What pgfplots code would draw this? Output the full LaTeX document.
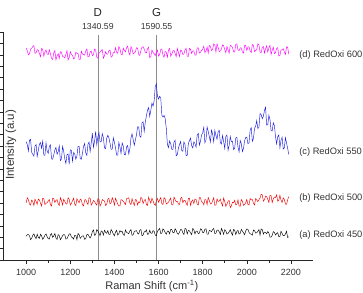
\documentclass[border=0pt]{standalone}
\usepackage{pgfplots}
\pgfplotsset{compat=1.18}
\usepackage{pgfplotstable}
\usepackage{fontspec}
\setmainfont{Liberation Sans}

\definecolor{cmag}{RGB}{255,0,255}
\definecolor{cblue}{RGB}{25,25,225}
\definecolor{cred}{RGB}{240,0,0}
\definecolor{cline}{RGB}{140,140,140}

\pgfplotstableread{
x a b c d
1000 2.08 5.02 10.38 18.58
1005 2.23 5.46 10.13 18.36
1010 2.23 5.30 9.56 18.00
1015 2.14 4.90 10.51 18.09
1020 1.78 4.82 10.58 18.49
1025 1.90 5.26 9.45 18.58
1030 2.17 5.14 9.28 18.72
1035 2.29 4.78 9.11 18.81
1040 2.02 5.34 9.98 18.13
1045 1.87 5.14 10.13 18.18
1050 2.26 4.90 9.08 18.45
1055 1.99 5.34 9.62 18.39
1060 1.90 5.26 10.16 18.11
1065 2.26 4.98 10.30 17.84
1070 2.11 4.74 9.80 18.56
1075 1.81 5.42 10.42 18.47
1080 1.96 5.38 9.20 17.89
1085 2.17 4.86 9.18 18.25
1090 2.29 4.98 10.28 18.43
1095 2.05 5.02 9.54 18.07
1100 1.87 5.18 9.36 18.02
1105 1.84 5.30 9.97 18.44
1110 2.20 4.86 10.10 18.09
1115 2.32 4.74 8.87 17.68
1120 1.99 5.42 8.84 17.59
1125 2.11 5.38 9.21 18.18
1130 2.32 5.06 9.66 18.36
1135 1.93 5.22 9.87 17.55
1140 1.81 5.30 9.28 17.91
1145 2.23 4.94 9.49 18.09
1150 2.14 4.78 10.02 17.68
1155 1.78 5.46 8.72 18.27
1160 1.93 5.22 8.86 18.22
1165 2.14 4.82 9.96 17.86
1170 2.23 5.34 9.54 17.82
1175 2.20 5.14 8.88 17.73
1180 1.84 4.94 8.46 18.04
1185 1.87 4.90 9.24 18.36
1190 2.08 5.46 9.30 17.55
1195 2.29 5.34 8.40 17.77
1200 2.29 4.82 9.66 18.27
1205 2.02 4.98 9.61 18.04
1210 1.96 5.18 8.68 17.95
1215 1.84 5.42 9.43 17.64
1220 2.17 4.90 9.30 17.73
1225 2.17 4.78 8.85 18.22
1230 1.78 5.38 9.12 18.13
1235 2.32 5.18 9.95 18.13
1240 2.23 5.02 9.98 17.59
1245 1.90 5.34 8.89 17.59
1250 2.02 5.26 8.84 18.31
1255 2.11 4.86 9.33 18.07
1260 2.11 4.74 9.97 18.01
1265 1.81 5.26 10.21 17.97
1270 1.87 5.30 9.41 18.33
1275 2.23 5.06 9.18 18.51
1280 2.26 4.86 10.14 17.83
1285 2.08 5.46 10.35 17.83
1290 1.93 5.42 9.51 18.24
1295 2.13 4.82 10.28 18.33
1300 2.49 4.98 11.12 17.92
1305 2.64 5.22 9.89 18.01
1310 2.16 5.14 10.42 18.51
1315 2.22 4.94 11.27 18.42
1320 2.67 4.82 10.12 17.79
1325 2.55 5.38 10.81 17.70
1330 2.34 5.34 11.18 18.15
1335 2.13 4.74 10.35 18.24
1340 2.55 4.94 10.39 18.37
1345 2.49 5.30 11.08 18.46
1350 2.19 5.22 10.73 17.70
1355 2.61 5.18 9.82 17.92
1360 2.43 4.78 9.78 18.28
1365 2.34 4.86 10.68 18.06
1370 2.58 5.34 10.94 18.06
1375 2.25 5.42 10.72 18.37
1380 2.25 4.94 10.25 18.42
1385 2.67 5.02 9.71 17.79
1390 2.52 5.46 9.73 17.88
1395 2.28 5.22 10.71 18.19
1400 2.13 4.82 10.32 18.19
1405 2.46 5.42 9.84 18.63
1410 2.61 5.18 9.19 18.22
1415 2.19 4.90 9.19 18.13
1420 2.31 4.74 10.31 18.71
1425 2.58 4.74 9.91 18.53
1430 2.46 5.30 9.34 18.08
1435 2.52 5.26 10.27 17.99
1440 2.22 5.14 10.00 18.58
1445 2.16 5.02 9.25 18.40
1450 2.64 4.86 9.22 18.26
1455 2.43 5.38 9.91 18.62
1460 2.37 5.42 10.04 18.76
1465 2.31 5.46 9.30 18.22
1470 2.55 4.98 9.76 17.99
1475 2.67 4.86 10.70 18.71
1480 2.16 5.38 11.07 18.49
1485 2.22 5.06 10.57 18.08
1490 2.49 4.78 10.07 18.17
1495 2.55 5.30 10.53 18.26
1500 2.58 5.27 10.98 18.62
1505 2.34 4.83 11.69 18.58
1510 2.28 5.11 11.68 18.04
1515 2.61 5.03 10.87 17.95
1520 2.67 5.51 10.78 18.40
1525 2.13 5.39 12.05 18.67
1530 2.19 4.95 12.12 18.71
1535 2.49 5.23 11.28 18.49
1540 2.46 5.31 12.12 18.22
1545 2.64 4.87 12.64 18.17
1550 2.25 4.79 13.16 18.53
1555 2.28 5.51 13.36 18.66
1560 2.61 5.23 12.60 17.75
1565 2.37 4.99 13.14 17.84
1570 2.34 5.43 13.76 18.42
1575 2.58 5.19 13.50 18.20
1580 2.52 4.91 13.96 18.11
1585 2.19 4.79 15.22 17.93
1590 2.13 5.19 15.44 18.24
1595 2.51 5.39 14.38 18.42
1600 2.65 5.07 14.12 17.88
1605 2.77 5.27 14.36 18.02
1610 2.32 5.47 14.20 18.47
1615 2.35 4.95 12.69 18.51
1620 2.74 4.87 12.54 17.97
1625 2.62 5.47 12.68 17.79
1630 2.41 5.35 12.42 18.29
1635 2.26 4.91 11.57 18.24
1640 2.53 4.99 10.16 17.79
1645 2.53 5.07 9.86 18.42
1650 2.29 5.27 10.44 18.56
1655 2.68 5.43 10.20 17.88
1660 2.68 4.83 9.71 18.06
1665 2.41 4.83 9.71 18.33
1670 2.38 5.51 10.35 18.38
1675 2.74 5.31 10.51 18.11
1680 2.59 5.11 9.14 17.84
1685 2.32 5.15 9.24 18.56
1690 2.26 4.91 9.81 18.20
1695 2.44 4.87 10.14 17.84
1700 2.68 5.39 10.39 18.42
1705 2.65 5.51 9.61 18.34
1710 2.38 5.03 9.54 18.03
1715 2.23 5.23 10.35 18.07
1720 2.77 5.23 10.12 18.43
1725 2.71 4.99 9.13 18.57
1730 2.29 4.79 9.18 17.85
1735 2.59 5.39 10.19 17.85
1740 2.56 5.43 10.48 18.57
1745 2.38 4.79 10.69 18.48
1750 2.23 5.15 10.02 18.12
1755 2.77 5.27 9.83 18.34
1760 2.65 4.95 10.36 18.34
1765 2.29 5.35 10.21 17.98
1770 2.53 5.31 9.90 17.98
1775 2.53 4.91 10.95 18.61
1780 2.32 4.83 11.11 18.61
1785 2.35 5.47 10.08 18.16
1790 2.74 5.47 10.41 18.21
1795 2.68 5.11 10.98 18.39
1800 2.41 5.07 11.14 18.48
1805 2.41 4.84 11.64 18.76
1810 2.71 5.30 10.29 18.19
1815 2.74 5.28 10.54 18.33
1820 2.26 4.86 11.67 18.69
1825 2.26 5.48 11.29 18.15
1830 2.59 5.22 10.82 18.82
1835 2.56 4.92 10.35 18.73
1840 2.47 4.94 11.40 18.37
1845 2.68 5.20 11.05 18.46
1850 2.77 5.46 10.37 18.96
1855 2.32 4.80 11.37 18.87
1860 2.35 4.82 10.93 18.24
1865 2.62 5.36 10.58 18.96
1870 2.62 5.14 11.26 18.64
1875 2.47 5.16 11.38 18.28
1880 2.23 5.34 10.30 18.33
1885 2.77 5.00 10.17 18.51
1890 2.56 4.74 10.92 18.87
1895 2.26 5.44 10.39 18.78
1900 2.66 5.11 9.78 18.46
1905 2.54 4.71 10.85 18.19
1910 2.27 4.91 10.96 18.73
1915 2.33 5.15 9.63 18.42
1920 2.48 5.23 10.06 18.15
1925 2.66 4.59 10.83 18.82
1930 2.39 4.75 10.39 18.78
1935 2.18 5.07 10.43 18.64
1940 2.69 5.03 9.67 18.28
1945 2.60 5.23 9.80 18.24
1950 2.24 4.83 10.72 18.91
1955 2.51 4.87 10.76 18.96
1960 2.60 5.27 9.92 18.42
1965 2.27 4.75 9.48 18.37
1970 2.33 4.71 10.48 18.60
1975 2.69 5.31 10.20 18.60
1980 2.54 5.15 9.51 18.24
1985 2.39 4.79 9.79 18.15
1990 2.21 4.87 10.47 18.82
1995 2.54 5.03 10.75 18.82
2000 2.72 5.31 10.78 18.37
2005 2.69 4.87 10.21 18.69
2010 2.42 4.83 10.28 18.69
2015 2.30 5.39 11.39 18.33
2020 2.27 5.27 11.62 18.19
2025 2.18 5.31 10.41 18.91
2030 2.63 4.99 10.64 18.82
2035 2.57 4.83 11.55 18.28
2040 2.36 5.39 11.73 18.37
2045 2.39 5.27 12.23 18.46
2050 2.51 5.12 11.53 18.96
2055 2.66 5.28 11.64 18.87
2060 2.18 5.44 12.86 18.24
2065 2.72 5.76 12.75 18.19
2070 2.66 5.72 12.39 18.64
2075 2.27 5.16 12.60 18.73
2080 2.45 5.28 13.12 18.15
2085 2.42 5.60 13.40 18.55
2090 2.30 5.56 11.83 18.78
2095 2.50 5.32 11.87 18.24
2100 2.37 5.04 12.70 18.60
2105 2.01 5.68 12.32 18.83
2110 2.01 5.64 11.37 18.03
2115 2.16 5.04 11.31 18.39
2120 2.49 5.36 12.04 18.66
2125 2.43 5.52 11.80 18.12
2130 2.19 5.48 10.83 18.17
2135 2.31 5.72 10.18 18.57
2140 2.40 5.16 10.81 18.62
2145 2.04 5.24 10.97 17.90
2150 2.07 5.68 9.84 17.94
2155 2.52 5.26 10.50 18.44
2160 2.34 5.04 10.76 18.44
2165 2.13 5.44 9.74 18.53
2170 2.13 5.32 9.83 18.26
2175 2.28 4.92 10.73 18.03
2180 2.52 4.88 10.27 18.71
2185 1.98 5.28 9.81 18.66
2190 2.04 5.56 9.26 18.08
}\spectra

\begin{document}
\begin{tikzpicture}
\begin{axis}[name=ax, scale only axis, width=310pt, height=228pt,
  xmin=895, xmax=2300, ymin=0, ymax=20,
  axis x line*=bottom, axis y line*=left,
  axis line style={-, line width=0.7pt, black!85},
  xtick={1000,1200,...,2200}, minor x tick num=1,
  ytick={0,1,...,20}, yticklabels={},
  tick align=outside, major tick length=4pt, minor tick length=2.5pt,
  every tick/.style={black!85, line width=0.6pt},
  ticklabel style={font=\fontsize{9}{10}\selectfont, text=black!80},
  xticklabel style={yshift=-1.5pt},
  /pgf/number format/assume math mode=true,
  /pgf/number format/1000 sep={},
  clip=false]
\draw[cline, line width=0.6pt] (axis cs:1325,0) -- (axis cs:1325,19.7);
\draw[cline, line width=0.6pt] (axis cs:1591,0) -- (axis cs:1591,19.7);
\addplot[cmag, line width=0.45pt] table[x=x, y=d] {\spectra};
\addplot[cblue, line width=0.45pt] table[x=x, y=c] {\spectra};
\addplot[cred, line width=0.45pt] table[x=x, y=b] {\spectra};
\addplot[black, line width=0.45pt] table[x=x, y=a] {\spectra};
\node[anchor=west, font=\fontsize{9.3}{10}\selectfont, text=black!80] at (axis cs:2222,17.98) {(d) RedOxi 600};
\node[anchor=west, font=\fontsize{9.3}{10}\selectfont, text=black!80] at (axis cs:2222,9.47) {(c) RedOxi 550};
\node[anchor=west, font=\fontsize{9.3}{10}\selectfont, text=black!80] at (axis cs:2222,5.44) {(b) RedOxi 500};
\node[anchor=west, font=\fontsize{9.3}{10}\selectfont, text=black!80] at (axis cs:2222,2.19) {(a) RedOxi 450};
\node[font=\fontsize{11.5}{12}\selectfont, text=black!85] at (axis cs:1325,21.75) {D};
\node[font=\fontsize{11.5}{12}\selectfont, text=black!85] at (axis cs:1591,21.75) {G};
\node[font=\fontsize{8.7}{10}\selectfont, text=black!80] at (axis cs:1325,20.44) {1340.59};
\node[font=\fontsize{8.7}{10}\selectfont, text=black!80] at (axis cs:1591,20.44) {1590.55};
\node[rotate=90, font=\fontsize{11.5}{12}\selectfont, text=black!80] at ([xshift=8pt]axis description cs:0,0.505) {Intensity (a.u)};
\node[anchor=north, inner sep=1pt, font=\fontsize{11}{12}\selectfont, text=black!80] at ([yshift=-19pt]axis description cs:0.48,0) {Raman Shift (cm\textsuperscript{-1})};
\end{axis}
\pgfresetboundingbox
\path[use as bounding box] ([shift={(-3pt,-32pt)}]ax.south west) rectangle ([shift={(360pt,260pt)}]ax.south west);
\end{tikzpicture}
\end{document}
